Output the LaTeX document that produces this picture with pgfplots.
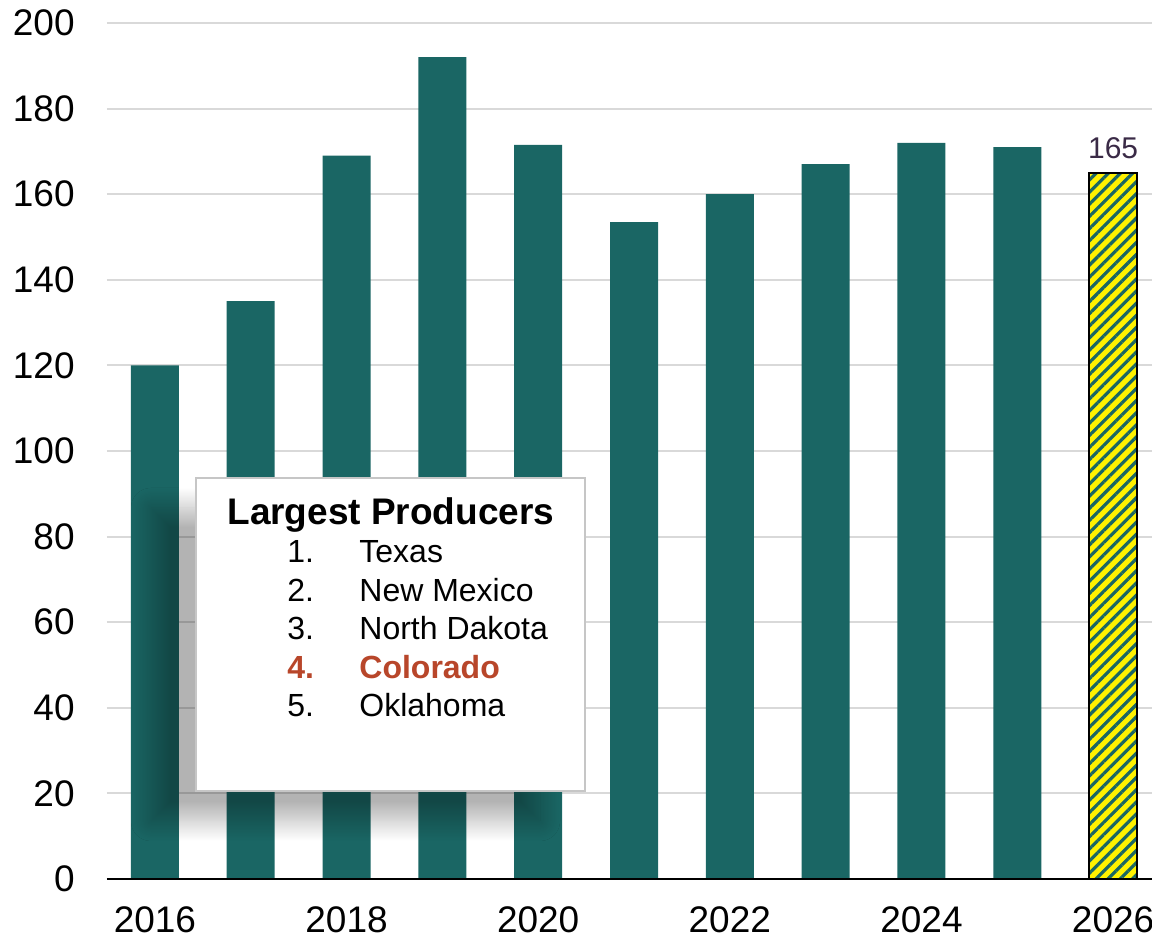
\documentclass[border=0pt]{standalone}
\usepackage{pgfplots}
\pgfplotsset{compat=1.18}
\usepackage{fontspec}
\setmainfont{Liberation Sans}
\usetikzlibrary{patterns.meta, shadows.blur}
\definecolor{barteal}{RGB}{26,102,100}
\definecolor{gridgray}{RGB}{217,217,217}
\definecolor{colo}{RGB}{184,70,42}
\definecolor{lab}{RGB}{58,42,70}
\begin{document}
\begin{tikzpicture}
\begin{axis}[
  scale only axis, width=527pt, height=428pt,
  xmin=2015.5, xmax=2026.5, ymin=0, ymax=200,
  axis line style={draw=none},
  ytick={0,20,...,200}, xtick={2016,2018,...,2026},
  major tick length=0pt,
  ymajorgrids, grid style={gridgray, line width=1pt},
  /pgf/number format/assume math mode=true,
  x tick label style={/pgf/number format/1000 sep={}},
  tick label style={font=\fontsize{18.5pt}{22pt}\selectfont, text=black},
  yticklabel style={anchor=east, inner sep=0pt, xshift=-16pt},
  xticklabel style={anchor=north, inner sep=0pt, yshift=-13.5pt},
  clip=false,
]
\addplot[ybar, bar width=24pt, bar shift=0pt, fill=barteal, draw=none] coordinates {
  (2016,120) (2017,135) (2018,169) (2019,192) (2020,171.5)
  (2021,153.5) (2022,160) (2023,167) (2024,172) (2025,171)};
\addplot[ybar, bar width=24pt, bar shift=0pt, fill=yellow, draw=none,
  postaction={pattern={Lines[angle=45, distance=4.3pt, line width=1.6pt]}, pattern color=barteal}]
  coordinates {(2026,165)};
\addplot[ybar, bar width=24pt, bar shift=0pt, fill=none, draw=black, line width=1pt,
  nodes near coords,
  nodes near coords style={font=\fontsize{15pt}{18pt}\selectfont, text=lab, anchor=south, inner sep=0pt, yshift=6.5pt}]
  coordinates {(2026,165)};
\draw[black, line width=1pt] (axis cs:2015.5,0) -- (axis cs:2026.5,0);
\coordinate (O) at (axis cs:2015.5,0);
\end{axis}
\begin{scope}[shift={(O)}]
\begin{scope}[x=0.5pt, y=-0.5pt, shift={(-107,-879)}]
\draw[gray!45, line width=0.75pt, fill=white,
  blur shadow={shadow xshift=-22.5pt, shadow yshift=-15pt, shadow blur radius=10pt, shadow blur steps=20, shadow opacity=30}]
  (196,478) rectangle (585,791);
\node[anchor=base west, inner sep=0pt, font=\bfseries\fontsize{18.5pt}{22pt}\selectfont] at (227,525) {Largest Producers};
\begin{scope}[every node/.style={anchor=base west, inner sep=0pt, font=\fontsize{16pt}{19pt}\selectfont}]
\node at (287,563) {1.};   \node at (359,563) {Texas};
\node at (287,602) {2.};   \node at (359,602) {New Mexico};
\node at (287,640) {3.};   \node at (359,640) {North Dakota};
\node[text=colo, font=\bfseries\fontsize{16pt}{19pt}\selectfont] at (287,679) {4.};
\node[text=colo, font=\bfseries\fontsize{16pt}{19pt}\selectfont] at (359,679) {Colorado};
\node at (287,717) {5.};   \node at (359,717) {Oklahoma};
\end{scope}
\pgfresetboundingbox
\useasboundingbox (0,0) rectangle (1152,941);
\end{scope}
\end{scope}
\end{tikzpicture}
\end{document}
